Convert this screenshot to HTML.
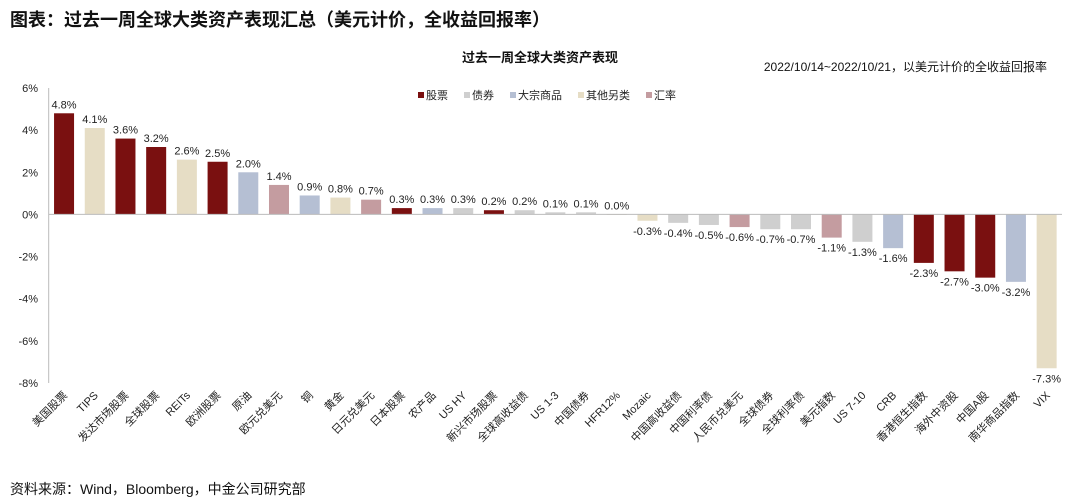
<!DOCTYPE html>
<html><head><meta charset="utf-8"><style>
body{margin:0;background:#fff;font-family:"Liberation Sans","Noto Sans CJK SC",sans-serif;}
#wrap{position:relative;width:1080px;height:502px;overflow:hidden;}
</style></head><body>
<div id="wrap">
<div style="position:absolute;left:10px;top:6px;font-size:18px;font-weight:bold;color:#111;">图表：过去一周全球大类资产表现汇总（美元计价，全收益回报率）</div>
<div style="position:absolute;left:10px;top:479px;font-size:14px;color:#111;">资料来源：Wind，Bloomberg，中金公司研究部</div>
<svg id="chart" width="1080" height="502" style="position:absolute;left:0;top:0"></svg>
</div>
<script>
const categories=["美国股票","TIPS","发达市场股票","全球股票","REITs","欧洲股票","原油","欧元兑美元","铜","黄金","日元兑美元","日本股票","农产品","US HY","新兴市场股票","全球高收益债","US 1-3","中国债券","HFR12%","Mozaic","中国高收益债","中国利率债","人民币兑美元","全球债券","全球利率债","美元指数","US 7-10","CRB","香港恒生指数","海外中资股","中国A股","南华商品指数","VIX"];
const values=[4.8,4.1,3.6,3.2,2.6,2.5,2.0,1.4,0.9,0.8,0.7,0.3,0.3,0.3,0.2,0.2,0.1,0.1,0.0,-0.3,-0.4,-0.5,-0.6,-0.7,-0.7,-1.1,-1.3,-1.6,-2.3,-2.7,-3.0,-3.2,-7.3];
const groups=["股票","其他另类","股票","股票","其他另类","股票","大宗商品","汇率","大宗商品","其他另类","汇率","股票","大宗商品","债券","股票","债券","债券","债券","其他另类","其他另类","债券","债券","汇率","债券","债券","汇率","债券","大宗商品","股票","股票","股票","大宗商品","其他另类"];
const legendNames=["股票","债券","大宗商品","其他另类","汇率"];
const yTicks=[6,4,2,0,-2,-4,-6,-8];
const colors={"股票":"#7a1010","债券":"#cfcfcf","大宗商品":"#b5bfd3","其他另类":"#e6ddc5","汇率":"#c49ca0"};
const NS="http://www.w3.org/2000/svg";
const svg=document.getElementById('chart');
const pLeft=48.7,pRight=1062,yMax=6,yMin=-8,pTop=88,pBottom=383;
const y=v=>pTop+(yMax-v)*(pBottom-pTop)/(yMax-yMin);
const step=(pRight-pLeft)/categories.length;
const x=i=>pLeft+step*(i+0.5);
function mk(t,a,txt){const e=document.createElementNS(NS,t);for(const k in a)e.setAttribute(k,a[k]);if(txt!==undefined)e.textContent=txt;svg.appendChild(e);return e;}
let e;
e=mk('text',{x:540,y:62,'font-size':13,'font-weight':'bold','text-anchor':'middle',fill:'#111'},'过去一周全球大类资产表现');


e=mk('text',{x:1047,y:71,'font-size':12,'text-anchor':'end',fill:'#111'},'2022/10/14~2022/10/21，以美元计价的全收益回报率');


let lx=418;
legendNames.forEach((n,i)=>{
 const g=mk('g',{});
 
 
 const r=document.createElementNS(NS,'rect');r.setAttribute('x',lx);r.setAttribute('y',92);r.setAttribute('width',6);r.setAttribute('height',6);r.setAttribute('fill',colors[n]);g.appendChild(r);
 const t=document.createElementNS(NS,'text');t.setAttribute('x',lx+8);t.setAttribute('y',99);t.setAttribute('font-size',11);t.setAttribute('fill','#222');t.textContent=n;g.appendChild(t);
 lx+=8+n.length*11+16;
});
yTicks.forEach(v=>{
 e=mk('text',{x:38,y:y(v)+4,'font-size':11,'text-anchor':'end',fill:'#222'},v+'%');
 
 
});
e=mk('line',{x1:pLeft,x2:pLeft,y1:pTop,y2:pBottom,stroke:'#bbb','stroke-width':1});


const bw=20;
values.forEach((v,i)=>{
 const y0=y(0),yv=y(v);
 e=mk('rect',{x:x(i)-bw/2,y:Math.min(y0,yv),width:bw,height:Math.max(Math.abs(yv-y0),0.5),fill:colors[groups[i]]});
 
 
 e=mk('text',{x:x(i),y:v>=0?yv-5:yv+14,'font-size':11,'text-anchor':'middle',fill:'#222'},v.toFixed(1)+'%');
 
 
 e=mk('text',{x:x(i)+4,y:396,'font-size':11,'text-anchor':'end',fill:'#222',transform:`rotate(-45 ${x(i)+4} 396)`},categories[i]);
 
 
});
e=mk('line',{x1:pLeft,x2:pRight,y1:y(0),y2:y(0),stroke:'#bbb','stroke-width':1});


</script>
</body></html>
